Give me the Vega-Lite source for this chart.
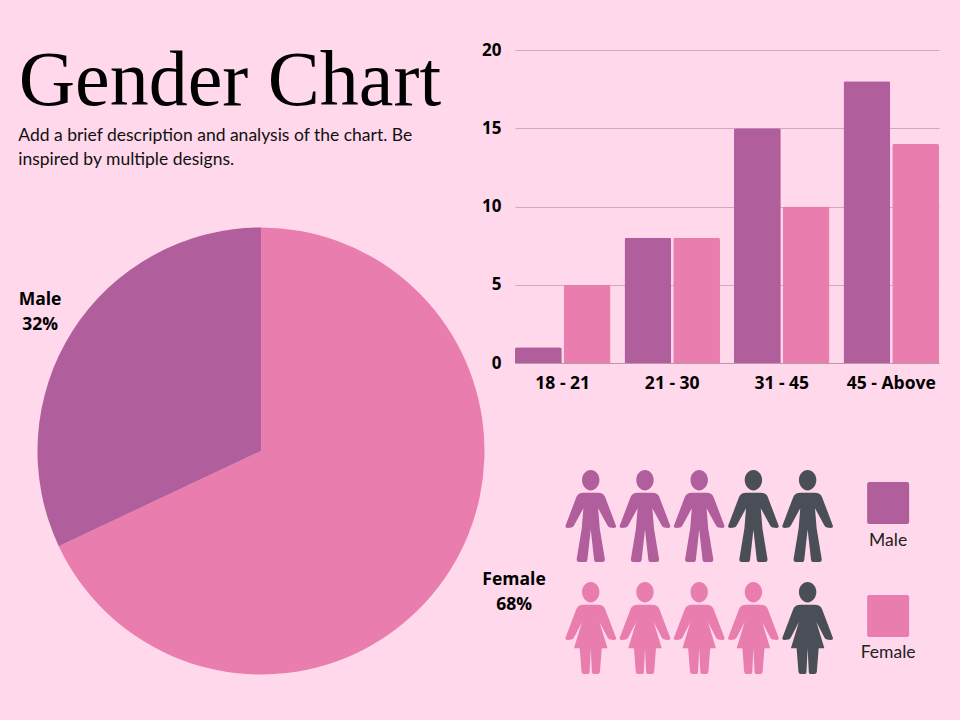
{"$schema":"https://vega.github.io/schema/vega-lite/v6.json","background":"#FFD8EB","padding":0,"autosize":{"type":"pad"},"config":{"view":{"stroke":null},"font":"Open Sans"},"datasets":{"people":[{"column":1,"row":0,"group":"Male"},{"column":2,"row":0,"group":"Male"},{"column":3,"row":0,"group":"Male"},{"column":4,"row":0,"group":"Other","sex":"m"},{"column":5,"row":0,"group":"Other","sex":"m"},{"column":1,"row":1,"group":"Female"},{"column":2,"row":1,"group":"Female"},{"column":3,"row":1,"group":"Female"},{"column":4,"row":1,"group":"Female"},{"column":5,"row":1,"group":"Other","sex":"f"}],"key":[{"column":6.485,"row":-0.116,"labelRow":0.223,"group":"Male"},{"column":6.485,"row":0.893,"labelRow":1.223,"group":"Female"}],"gender":[{"group":"Female","share":68,"order":1,"label":"Female\n68%","labelAt":32.5,"labelRadius":284},{"group":"Male","share":32,"order":2,"label":"Male\n32%","labelAt":84.55,"labelRadius":267.7}]},"columns":2,"align":"none","bounds":"flush","spacing":{"row":0,"column":-7},"concat":[{"width":522,"height":363,"layer":[{"data":{"values":[{"text":"Gender Chart","left":3.6,"base":28.93}]},"mark":{"type":"text","align":"left","baseline":"alphabetic","font":"Liberation Serif","fontSize":78,"color":"#000000"},"encoding":{"x":{"field":"left","type":"quantitative","scale":{"domain":[0,100]},"axis":null},"y":{"field":"base","type":"quantitative","scale":{"domain":[100,0]},"axis":null},"text":{"field":"text"}}},{"data":{"values":[{"text":"Add a brief description and analysis of the chart. Be","left":3.5,"base":38.76},{"text":"inspired by multiple designs.","left":3.5,"base":45.47}]},"mark":{"type":"text","align":"left","baseline":"alphabetic","font":"Lato","fontSize":17.5,"color":"#111111"},"encoding":{"x":{"field":"left","type":"quantitative","scale":{"domain":[0,100]},"axis":null},"y":{"field":"base","type":"quantitative","scale":{"domain":[100,0]},"axis":null},"text":{"field":"text"}}}]},{"width":424,"height":363,"data":{"values":[{"age":"18 - 21","group":"Male","count":1},{"age":"18 - 21","group":"Female","count":5},{"age":"21 - 30","group":"Male","count":8},{"age":"21 - 30","group":"Female","count":8},{"age":"31 - 45","group":"Male","count":15},{"age":"31 - 45","group":"Female","count":10},{"age":"45 - Above","group":"Male","count":18},{"age":"45 - Above","group":"Female","count":14}]},"mark":{"type":"bar","cornerRadiusTopLeft":2,"cornerRadiusTopRight":2},"encoding":{"x":{"field":"age","type":"nominal","sort":null,"scale":{"paddingInner":0.128,"paddingOuter":0},"axis":{"title":null,"labelAngle":0,"ticks":false,"domainColor":"#B89AAE","domainWidth":1,"labelColor":"#000000","labelFont":"Open Sans","labelFontWeight":"bold","labelFontSize":17.5,"labelPadding":11}},"xOffset":{"field":"group","type":"nominal","sort":["Male","Female"],"scale":{"paddingInner":0.04,"paddingOuter":0}},"y":{"field":"count","type":"quantitative","scale":{"domain":[0,20],"range":[363,50]},"axis":{"title":null,"values":[0,5,10,15,20],"ticks":false,"domain":false,"gridColor":"#CFA9C1","gridWidth":1,"labelColor":"#000000","labelFont":"Open Sans","labelFontWeight":"bold","labelFontSize":17,"labelPadding":14}},"color":{"field":"group","type":"nominal","legend":null,"scale":{"domain":["Male","Female","Other"],"range":["#B05E9C","#E97DAE","#4A4F57"]}}}},{"width":522,"height":176,"data":{"name":"gender"},"layer":[{"mark":{"type":"arc","outerRadius":223.5},"encoding":{"theta":{"field":"share","type":"quantitative","stack":true,"scale":{"domain":[0,100]}},"order":{"field":"order","type":"quantitative"},"color":{"field":"group","type":"nominal","legend":null,"scale":{"domain":["Male","Female","Other"],"range":["#B05E9C","#E97DAE","#4A4F57"]}}}},{"mark":{"type":"text","fontSize":17.5,"fontWeight":"bold","font":"Open Sans","color":"#000000","lineHeight":25,"align":"center","baseline":"middle"},"encoding":{"theta":{"field":"labelAt","type":"quantitative","stack":null,"scale":{"domain":[0,100]}},"radius":{"field":"labelRadius","type":"quantitative","scale":{"type":"linear","domain":[0,300],"range":[0,300]}},"text":{"field":"label"}}}],"transform":[{"calculate":"split(datum.label,'\\n')","as":"label"}]},{"width":445,"height":357,"layer":[{"data":{"name":"people"},"transform":[{"filter":"datum.row==0"}],"mark":{"type":"point","filled":true,"opacity":1,"size":8464,"shape":"M-.189,-.782C-.189,-.906 -.104,-1 0,-1C.104,-1 .189,-.906 .189,-.782C.189,-.658 .104,-.557 0,-.557C-.104,-.557 -.189,-.658 -.189,-.782ZM0,-.505L-.16,-.505Q-.27,-.505 -.31,-.42L-.545,.2Q-.57,.258 -.5,.258L-.42,.251Q-.39,.25 -.364,.207L-.16,-.17L-.196,.273L-.305,.927Q-.315,1 -.25,1L-.109,1Q-.08,1 -.073,.949L0,.295L.073,.949Q.08,1 .109,1L.25,1Q.315,1 .305,.927L.196,.273L.16,-.17L.364,.207Q.39,.25 .42,.251L.5,.258Q.57,.258 .545,.2L.31,-.42Q.27,-.505 .16,-.505Z"},"encoding":{"x":{"field":"column","type":"quantitative","scale":{"domain":[-0.397,7.81]},"axis":null},"y":{"field":"row","type":"quantitative","scale":{"domain":[1.821,-1.366]},"axis":null},"color":{"field":"group","type":"nominal","legend":null,"scale":{"domain":["Male","Female","Other"],"range":["#B05E9C","#E97DAE","#4A4F57"]}}}},{"data":{"name":"people"},"transform":[{"filter":"datum.row==1"}],"mark":{"type":"point","filled":true,"opacity":1,"size":8464,"shape":"M-.189,-.782C-.189,-.906 -.104,-1 0,-1C.104,-1 .189,-.906 .189,-.782C.189,-.658 .104,-.557 0,-.557C-.104,-.557 -.189,-.658 -.189,-.782ZM0,-.505L-.16,-.505Q-.27,-.505 -.31,-.42L-.545,.2Q-.57,.258 -.5,.258L-.42,.251Q-.39,.25 -.364,.207L-.19,-.13L-.364,.44L-.24,.44L-.2,.95Q-.195,1 -.15,1L-.06,1Q-.025,1 -.025,.95L0,.44L.025,.95Q.025,1 .06,1L.15,1Q.195,1 .2,.95L.24,.44L.364,.44L.19,-.13L.364,.207Q.39,.25 .42,.251L.5,.258Q.57,.258 .545,.2L.31,-.42Q.27,-.505 .16,-.505Z"},"encoding":{"x":{"field":"column","type":"quantitative","scale":{"domain":[-0.397,7.81]},"axis":null},"y":{"field":"row","type":"quantitative","scale":{"domain":[1.821,-1.366]},"axis":null},"color":{"field":"group","type":"nominal","legend":null,"scale":{"domain":["Male","Female","Other"],"range":["#B05E9C","#E97DAE","#4A4F57"]}}}},{"data":{"name":"key"},"mark":{"type":"point","filled":true,"opacity":1,"size":1764,"shape":"M-.9,-1L.9,-1Q1,-1 1,-.9L1,.9Q1,1 .9,1L-.9,1Q-1,1 -1,.9L-1,-.9Q-1,-1 -.9,-1Z"},"encoding":{"x":{"field":"column","type":"quantitative","scale":{"domain":[-0.397,7.81]},"axis":null},"y":{"field":"row","type":"quantitative","scale":{"domain":[1.821,-1.366]},"axis":null},"color":{"field":"group","type":"nominal","legend":null,"scale":{"domain":["Male","Female","Other"],"range":["#B05E9C","#E97DAE","#4A4F57"]}}}},{"data":{"name":"key"},"mark":{"type":"text","font":"Lato","fontSize":17.5,"color":"#222222","align":"center","baseline":"middle"},"encoding":{"x":{"field":"column","type":"quantitative","scale":{"domain":[-0.397,7.81]},"axis":null},"y":{"field":"labelRow","type":"quantitative","scale":{"domain":[1.821,-1.366]},"axis":null},"text":{"field":"group"}}}]}]}
